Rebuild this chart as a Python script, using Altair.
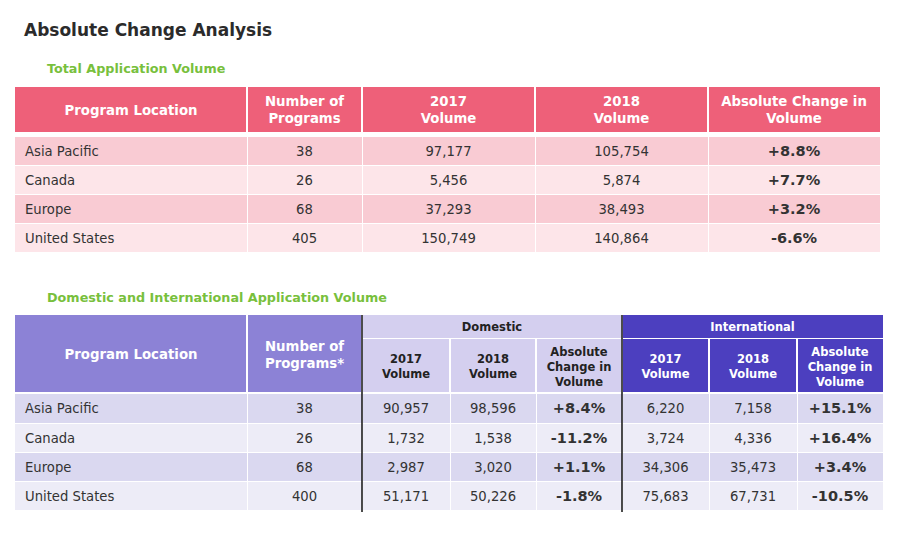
import altair as alt
import pandas as pd

# ---------------- data ----------------
title = "Absolute Change Analysis"
subtitle1 = "Total Application Volume"
subtitle2 = "Domestic and International Application Volume"

regions = ["Asia Pacific", "Canada", "Europe", "United States"]

t1_headers = ["Program Location", "Number of\nPrograms", "2017\nVolume", "2018\nVolume",
              "Absolute Change in\nVolume"]
t1_programs = [38, 26, 68, 405]
t1_vol2017 = [97177, 5456, 37293, 150749]
t1_vol2018 = [105754, 5874, 38493, 140864]
t1_change = [8.8, 7.7, 3.2, -6.6]

t2_left_headers = ["Program Location", "Number of\nPrograms*"]
t2_groups = ["Domestic", "International"]
t2_sub_headers = ["2017\nVolume", "2018\nVolume", "Absolute\nChange in\nVolume"]
t2_programs = [38, 26, 68, 400]
dom_2017 = [90957, 1732, 2987, 51171]
dom_2018 = [98596, 1538, 3020, 50226]
dom_change = [8.4, -11.2, 1.1, -1.8]
intl_2017 = [6220, 3724, 34306, 75683]
intl_2018 = [7158, 4336, 35473, 67731]
intl_change = [15.1, 16.4, 3.4, -10.5]

# ---------------- layout (page pixels) ----------------
FONT = "DejaVu Sans"
T1_COLS = [15, 247, 362, 535, 708, 880]
T1_HEAD = (87, 132)
T1_ROWS = [136, 165, 194, 223, 252]
T2_COLS = [15, 247, 362, 450, 536, 622, 709, 797, 883]
T2_HEAD = (315, 338, 393)
T2_ROWS = [393, 423, 452, 481, 510]

LH = {"head1": 17, "head2": 15}

PINK_HEAD = "#ee6079"
PINK_ROWS = ["#f9cbd3", "#fde5e9"]
PURPLE_HEAD = "#8c82d6"
DOM_HEAD = "#d4cfef"
INTL_HEAD = "#4c3fbf"
PURPLE_ROWS = ["#dad8f0", "#edecf7"]
TXT = "#333333"
GREEN = "#78c03c"


def fmt_num(v):
    return f"{v:,}"


def fmt_pct(v):
    return f"+{v:.1f}%" if v >= 0 else f"-{abs(v):.1f}%"


rects = []
texts = []  # x, y, label, color, size, kind


def rect(x0, x1, y0, y1, fill):
    rects.append(dict(x0=x0, x1=x1, y0=y0, y1=y1, fill=fill))


def text(x, y, label, color, size, kind):
    n = label.count("\n") + 1
    lh = LH.get(kind, 16)
    y = y - (n - 1) * lh / 2.0   # centre a multi-line block on y
    texts.append(dict(x=x, y=y, label=label, color=color, size=size, kind=kind))


# titles
text(24, 31, title, "#2b2b2b", 17, "title")
text(47, 69, subtitle1, GREEN, 12.75, "subtitle")
text(47, 298, subtitle2, GREEN, 12.75, "subtitle")

# ---- table 1 ----
n1 = len(T1_COLS) - 1
for i in range(n1):
    x0 = T1_COLS[i] + (1 if i > 0 else 0)
    x1 = T1_COLS[i + 1] - (1 if i < n1 - 1 else 0)
    rect(x0, x1, T1_HEAD[0], T1_HEAD[1], PINK_HEAD)
    text((T1_COLS[i] + T1_COLS[i + 1]) / 2, (T1_HEAD[0] + T1_HEAD[1]) / 2 + 1,
         t1_headers[i], "#ffffff", 13.3, "head1")

for r, reg in enumerate(regions):
    y0, y1 = T1_ROWS[r] + 1, T1_ROWS[r + 1]
    yc = (y0 + y1) / 2 + 0.5
    for i in range(n1):
        x0 = T1_COLS[i] + (1 if i > 0 else 0)
        rect(x0, T1_COLS[i + 1], y0, y1, PINK_ROWS[r % 2])
    vals = [fmt_num(t1_programs[r]), fmt_num(t1_vol2017[r]), fmt_num(t1_vol2018[r])]
    text(T1_COLS[0] + 10, yc, reg, TXT, 13.2, "left")
    for i, v in enumerate(vals):
        text((T1_COLS[i + 1] + T1_COLS[i + 2]) / 2, yc, v, TXT, 13.2, "center")
    text((T1_COLS[4] + T1_COLS[5]) / 2, yc, fmt_pct(t1_change[r]), TXT, 14.5, "bold")

# ---- table 2 ----
n2 = len(T2_COLS) - 1
# left header cells
for i in range(2):
    x0 = T2_COLS[i] + (1 if i > 0 else 0)
    x1 = T2_COLS[i + 1] - 1
    rect(x0, x1, T2_HEAD[0], T2_HEAD[2] - 1, PURPLE_HEAD)
    text((T2_COLS[i] + T2_COLS[i + 1]) / 2, (T2_HEAD[0] + T2_HEAD[2]) / 2 + 1,
         t2_left_headers[i], "#ffffff", 13.3, "head1")
# group headers
for g in range(2):
    c0 = 2 + 3 * g
    fill = DOM_HEAD if g == 0 else INTL_HEAD
    tcol = "#222222" if g == 0 else "#ffffff"
    rect(T2_COLS[c0] + 1, T2_COLS[c0 + 3] - (1 if g == 0 else 0), T2_HEAD[0], T2_HEAD[1], fill)
    text((T2_COLS[c0] + T2_COLS[c0 + 3]) / 2, (T2_HEAD[0] + T2_HEAD[1]) / 2 + 1.5,
         t2_groups[g], tcol, 11.5, "head2")
    for k in range(3):
        i = c0 + k
        x0 = T2_COLS[i] + 1
        x1 = T2_COLS[i + 1] - (1 if i < n2 - 1 else 0)
        rect(x0, x1, T2_HEAD[1] + 1, T2_HEAD[2] - 1, fill)
        text((T2_COLS[i] + T2_COLS[i + 1]) / 2, (T2_HEAD[1] + T2_HEAD[2]) / 2 + 2,
             t2_sub_headers[k], tcol, 11.5, "head2")

for r, reg in enumerate(regions):
    y0, y1 = T2_ROWS[r] + 1, T2_ROWS[r + 1]
    yc = (y0 + y1) / 2 + 0.5
    for i in range(n2):
        x0 = T2_COLS[i] + (1 if i > 0 else 0)
        rect(x0, T2_COLS[i + 1], y0, y1, PURPLE_ROWS[r % 2])
    text(T2_COLS[0] + 10, yc, reg, TXT, 13.2, "left")
    plain = {1: t2_programs[r], 2: dom_2017[r], 3: dom_2018[r], 5: intl_2017[r], 6: intl_2018[r]}
    for i, v in plain.items():
        text((T2_COLS[i] + T2_COLS[i + 1]) / 2, yc, fmt_num(v), TXT, 13.2, "center")
    text((T2_COLS[4] + T2_COLS[5]) / 2, yc, fmt_pct(dom_change[r]), TXT, 14.5, "bold")
    text((T2_COLS[7] + T2_COLS[8]) / 2, yc, fmt_pct(intl_change[r]), TXT, 14.5, "bold")

rules = pd.DataFrame([
    dict(x=T2_COLS[2], y0=T2_HEAD[0], y1=512),
    dict(x=T2_COLS[5], y0=T2_HEAD[0], y1=512),
])

rect_df = pd.DataFrame(rects)
text_df = pd.DataFrame(texts)

XS = alt.Scale(domain=[8, 896], nice=False, zero=False)
YS = alt.Scale(domain=[8, 525], nice=False, zero=False, reverse=True)

rect_layer = alt.Chart(rect_df).mark_rect(strokeWidth=0).encode(
    x=alt.X("x0:Q", scale=XS, axis=None),
    x2="x1:Q",
    y=alt.Y("y0:Q", scale=YS, axis=None),
    y2="y1:Q",
    fill=alt.Fill("fill:N", scale=None),
)

rule_layer = alt.Chart(rules).mark_rule(color="#111111", strokeWidth=1.5).encode(
    x=alt.X("x:Q", scale=XS, axis=None),
    y=alt.Y("y0:Q", scale=YS, axis=None),
    y2="y1:Q",
)


def text_layer(kind, align, weight):
    return alt.Chart(text_df).transform_filter(alt.datum.kind == kind).mark_text(
        align=align, baseline="middle", font=FONT, fontWeight=weight,
        lineBreak="\n", lineHeight=LH.get(kind, 16),
    ).encode(
        x=alt.X("x:Q", scale=XS, axis=None),
        y=alt.Y("y:Q", scale=YS, axis=None),
        text="label:N",
        color=alt.Color("color:N", scale=None),
        size=alt.Size("size:Q", scale=None),
    )


chart = alt.layer(
    rect_layer,
    rule_layer,
    text_layer("title", "left", "bold"),
    text_layer("subtitle", "left", "bold"),
    text_layer("head1", "center", "bold"),
    text_layer("head2", "center", "bold"),
    text_layer("left", "left", "normal"),
    text_layer("center", "center", "normal"),
    text_layer("bold", "center", "bold"),
).properties(
    width=888, height=517,
    autosize=alt.AutoSizeParams(type="none"),
    padding=0,
    background="white",
).configure_view(stroke=None)

chart.save("out.html", embed_options={"renderer": "svg", "actions": False})
